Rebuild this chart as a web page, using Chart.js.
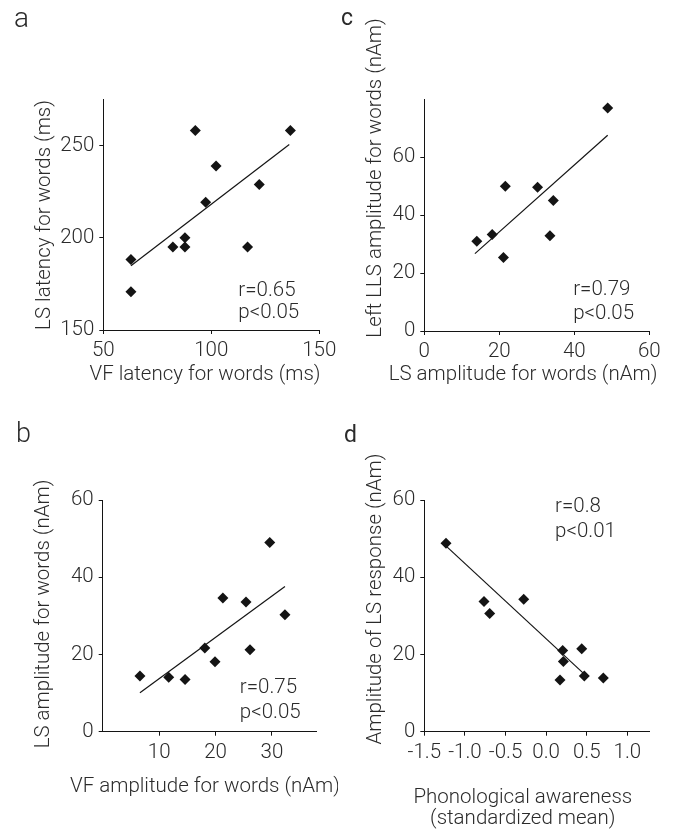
<!DOCTYPE html>
<html lang="en">
<head>
<meta charset="UTF-8">
<title>Correlations of LS responses</title>
<script src="https://cdn.jsdelivr.net/npm/chart.js@4.4.0/dist/chart.umd.min.js"></script>
<style>
  body { margin: 0; background: #ffffff; }
  .wrap { position: relative; width: 676px; height: 829px; overflow: hidden; }
  canvas { position: absolute; }
</style>
</head>
<body>
<div class="wrap">
  <canvas id="panelA" width="338" height="415" style="left:0;top:0"></canvas>
  <canvas id="panelC" width="338" height="415" style="left:338px;top:0"></canvas>
  <canvas id="panelB" width="338" height="414" style="left:0;top:415px"></canvas>
  <canvas id="panelD" width="338" height="414" style="left:338px;top:415px"></canvas>
</div>
<script>
// panel a: VF latency vs LS latency
const aX = [62.8, 62.8, 82.2, 87.8, 87.8, 92.6, 97.4, 102.2, 116.8, 122.2, 136.6];
const aY = [188.2, 170.7, 195, 195, 200, 258.1, 219.2, 238.8, 195, 228.8, 258.1];
const aFitX = [62.8, 136.1];
const aFitY = [184.8, 250.5];
const aTicksX = [50, 100, 150];
const aTicksY = [150, 200, 250];

// panel c: LS amplitude vs left LLS amplitude
const cX = [14.0, 18.1, 21.1, 21.6, 30.2, 33.5, 34.4, 48.9];
const cY = [31.0, 33.3, 25.4, 50.0, 49.6, 32.9, 45.1, 77.0];
const cFitX = [13.5, 48.9];
const cFitY = [26.7, 67.6];
const cTicksX = [0, 20, 40, 60];
const cTicksY = [0, 20, 40, 60];

// panel b: VF amplitude vs LS amplitude
const bX = [6.6, 11.7, 14.6, 18.1, 19.9, 21.3, 25.4, 26.1, 29.6, 32.3];
const bY = [14.4, 14.1, 13.5, 21.7, 18.1, 34.6, 33.6, 21.2, 49.0, 30.3];
const bFitX = [6.6, 32.3];
const bFitY = [10.1, 37.6];
const bTicksX = [10, 20, 30];
const bTicksY = [0, 20, 40, 60];

// panel d: phonological awareness vs LS amplitude
const dX = [-1.233, -0.765, -0.695, -0.276, 0.171, 0.204, 0.212, 0.438, 0.47, 0.704];
const dY = [48.8, 33.7, 30.6, 34.3, 13.4, 21.0, 18.2, 21.5, 14.4, 13.9];
const dFitX = [-1.254, 0.47];
const dFitY = [48.5, 14.9];
const dTicksX = [-1.5, -1.0, -0.5, 0.0, 0.5, 1.0];
const dTicksY = [0, 20, 40, 60];

const FONT = 'Roboto, "Liberation Sans", sans-serif';
const SIZE = 20.5;
const TEXT = '#2b2b2b';
const INK = '#141414';

// draws panel letters, axis titles and the r / p notes
const panelText = {
  id: 'panelText',
  afterDraw(chart, args, opts) {
    const ctx = chart.ctx;
    (opts.items || []).forEach(t => {
      ctx.save();
      ctx.fillStyle = TEXT;
      ctx.font = `${t.weight || 300} ${t.size || SIZE}px ${FONT}`;
      ctx.textAlign = t.align || 'center';
      ctx.textBaseline = 'alphabetic';
      let x = t.x, y = t.y;
      if (t.data) {
        x = chart.scales.x.getPixelForValue(t.x);
        y = chart.scales.y.getPixelForValue(t.y);
      }
      ctx.translate(x, y);
      if (t.rotate) ctx.rotate(-Math.PI / 2);
      ctx.fillText(t.text, 0, 0);
      ctx.restore();
    });
  }
};

function axis(min, max, ticks, digits) {
  return {
    type: 'linear',
    min: min,
    max: max,
    afterBuildTicks: s => { s.ticks = ticks.map(v => ({ value: v })); },
    ticks: {
      autoSkip: false,
      maxRotation: 0,
      color: TEXT,
      padding: 5,
      font: { family: FONT, size: SIZE, weight: 300 },
      callback: v => digits ? v.toFixed(digits) : String(v)
    },
    grid: {
      display: true,
      drawOnChartArea: false,
      drawTicks: true,
      tickLength: 4,
      tickColor: INK,
      lineWidth: 1
    },
    border: { display: true, color: INK, width: 1 }
  };
}

function makePanel(id, p) {
  const canvas = document.getElementById(id);
  const W = canvas.width, H = canvas.height;
  const xs = axis(p.xMin, p.xMax, p.xTicks, p.xDigits);
  const ys = axis(p.yMin, p.yMax, p.yTicks, 0);
  xs.afterFit = s => { s.height = H - p.area.bottom; s.paddingLeft = 0; s.paddingRight = 0; };
  ys.afterFit = s => { s.width = p.area.left; s.paddingTop = 0; s.paddingBottom = 0; };

  return new Chart(canvas, {
    type: 'scatter',
    data: {
      datasets: [
        {
          data: p.x.map((v, i) => ({ x: v, y: p.y[i] })),
          pointStyle: 'rectRot',
          pointRadius: 5.5,
          backgroundColor: INK,
          borderWidth: 0
        },
        {
          data: p.fitX.map((v, i) => ({ x: v, y: p.fitY[i] })),
          showLine: true,
          borderColor: INK,
          borderWidth: 1.2,
          pointRadius: 0
        }
      ]
    },
    options: {
      responsive: false,
      animation: false,
      layout: { padding: { left: 0, top: p.area.top, right: W - p.area.right, bottom: 0 } },
      plugins: {
        legend: { display: false },
        tooltip: { enabled: false },
        panelText: { items: p.text }
      },
      scales: { x: xs, y: ys }
    },
    plugins: [panelText]
  });
}

makePanel('panelA', {
  x: aX, y: aY, fitX: aFitX, fitY: aFitY,
  xMin: 50, xMax: 150, xTicks: aTicksX,
  yMin: 150, yMax: 275, yTicks: aTicksY,
  area: { left: 103.3, top: 99.3, right: 319.3, bottom: 330 },
  text: [
    { text: 'a', x: 14, y: 27, size: 28, align: 'left' },
    { text: 'LS latency for words (ms)', x: 50, y: 215, rotate: true },
    { text: 'VF latency for words (ms)', x: 205, y: 380 },
    { text: 'r=0.65', x: 112.5, y: 168.4, data: true, align: 'left' },
    { text: 'p<0.05', x: 112.5, y: 156.3, data: true, align: 'left' }
  ]
});

makePanel('panelC', {
  x: cX, y: cY, fitX: cFitX, fitY: cFitY,
  xMin: 0, xMax: 60, xTicks: cTicksX,
  yMin: 0, yMax: 80, yTicks: cTicksY,
  area: { left: 86.3, top: 99.3, right: 311.3, bottom: 331 },
  text: [
    { text: 'c', x: 3, y: 25, size: 23, weight: 400, align: 'left' },
    { text: 'Left LLS amplitude for words (nAm)', x: 42.7, y: 178, rotate: true },
    { text: 'LS amplitude for words (nAm)', x: 185, y: 380 },
    { text: 'r=0.79', x: 39.7, y: 12.5, data: true, align: 'left' },
    { text: 'p<0.05', x: 39.7, y: 4.1, data: true, align: 'left' }
  ]
});

makePanel('panelB', {
  x: bX, y: bY, fitX: bFitX, fitY: bFitY,
  xMin: 0, xMax: 37.8, xTicks: bTicksX,
  yMin: 0, yMax: 60, yTicks: bTicksY,
  area: { left: 102.7, top: 85, right: 316, bottom: 316.7 },
  text: [
    { text: 'b', x: 16, y: 27, size: 27, align: 'left' },
    { text: 'LS amplitude for words (nAm)', x: 49, y: 199, rotate: true },
    { text: 'VF amplitude for words (nAm)', x: 205, y: 376.7 },
    { text: 'r=0.75', x: 24.3, y: 9.9, data: true, align: 'left' },
    { text: 'p<0.05', x: 24.3, y: 3.5, data: true, align: 'left' }
  ]
});

makePanel('panelD', {
  x: dX, y: dY, fitX: dFitX, fitY: dFitY,
  xMin: -1.5, xMax: 1.27, xTicks: dTicksX, xDigits: 1,
  yMin: 0, yMax: 60, yTicks: dTicksY,
  area: { left: 86.3, top: 85, right: 311.3, bottom: 316.7 },
  text: [
    { text: 'd', x: 6, y: 27, size: 23, weight: 400, align: 'left' },
    { text: 'Amplitude of LS response (nAm)', x: 42.7, y: 184, rotate: true },
    { text: 'Phonological awareness', x: 184.8, y: 388.3 },
    { text: '(standardized mean)', x: 184.8, y: 409 },
    { text: 'r=0.8', x: 0.11, y: 57.0, data: true, align: 'left' },
    { text: 'p<0.01', x: 0.11, y: 50.5, data: true, align: 'left' }
  ]
});
</script>
</body>
</html>
